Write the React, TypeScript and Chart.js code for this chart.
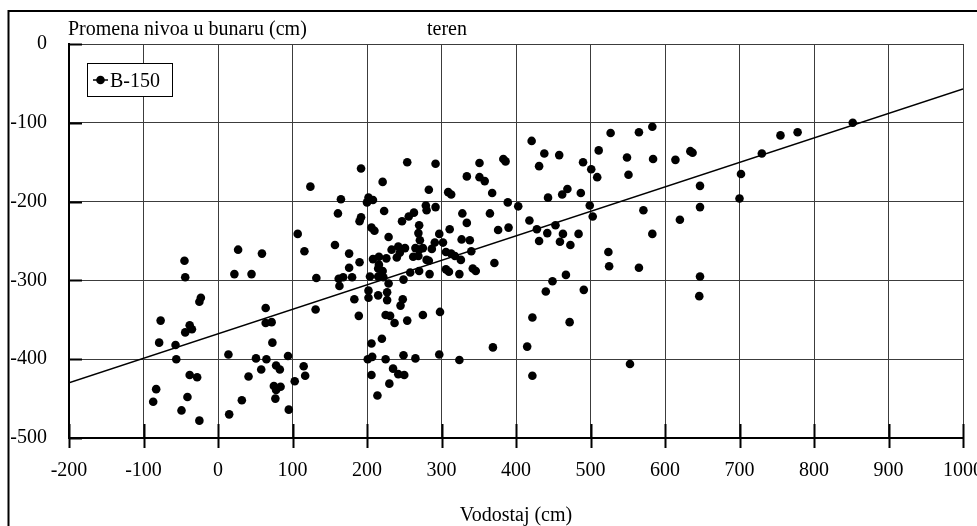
import React, { useEffect, useRef } from 'react';
import { Chart, registerables } from 'chart.js';

Chart.register(...registerables);

// ---- data ----
const xTickValues = [-200, -100, 0, 100, 200, 300, 400, 500, 600, 700, 800, 900, 1000];
const yTickValues = [0, -100, -200, -300, -400, -500];

const seriesName = 'B-150';
const yAxisTitle = 'Promena nivoa u bunaru (cm)';
const topNote = 'teren';
const xAxisTitle = 'Vodostaj (cm)';

// Vodostaj (cm)
const vodostaj = [
  -45, -44, -23, -25, -77, -38, -35, -44, -79, -57, -56, -38, -28, -83, -87, -41, -49, -25, 15, 32,
  41, 58, 51, 65, 14, 78, 83, 75, 84, 78, 77, 94, 103, 95, 73, 64, 72, 64, 27, 59, 22, 45, 107,
  116, 132, 131, 115, 117, 124, 192, 165, 161, 157, 176, 190, 176, 162, 168, 163, 180, 183, 189,
  254, 221, 202, 200, 208, 223, 192, 190, 206, 210, 229,
  208, 216, 226, 216, 215, 221, 204, 215, 222,
  229, 202, 202, 215, 227, 227,
  248, 245, 254, 225, 231, 237, 249,
  206, 220, 201, 207, 225, 249, 265, 206, 235, 242, 250, 230, 214,
  292, 283, 292, 279, 280, 263, 256, 247, 270, 269, 297,
  271, 270, 265, 275, 291, 287,
  233, 242, 244, 251, 240,
  262, 269, 280, 283, 258, 270, 284,
  298, 275, 297, 302,
  421, 431, 351, 383, 386, 334, 351, 358, 309, 313, 368, 389, 403, 328, 334, 365, 418, 428, 431, 390, 376, 311,
  306, 313, 318, 326, 340, 306, 310, 324, 342, 346, 371, 327, 338,
  324, 369, 415, 422, 422,
  438, 458, 490, 501, 509, 443, 462, 469, 487, 499, 503, 442, 453, 463, 459, 473, 484, 467, 449, 440, 491, 472,
  527, 565, 583, 511, 549, 551, 584, 614, 634, 637, 647, 647, 571, 583, 620, 524, 525, 565, 647, 646, 553,
  702, 700, 730, 755, 778, 852,
];

// Promena nivoa u bunaru (cm)
const promenaNivoa = [
  -275, -296, -322, -327, -351, -357, -362, -366, -379, -382, -400, -420, -423, -438, -454, -448, -465, -478, -470, -452,
  -422, -413, -399, -400, -394, -408, -413, -434, -435, -439, -450, -396, -428, -464, -379, -354, -353, -335, -261, -266, -292, -292, -241,
  -263, -297, -337, -409, -421, -181, -158, -197, -215, -255, -266, -277, -284, -298, -296, -307, -296, -324, -345,
  -150, -175, -195, -201, -198, -212, -220, -225, -233, -237, -245,
  -273, -270, -272, -280, -285, -288, -295, -295, -296,
  -304, -313, -322, -319, -315, -325,
  -324, -332, -351, -344, -345, -354, -299,
  -380, -374, -400, -397, -400, -395, -399, -420, -412, -419, -420, -431, -446,
  -152, -185, -207, -205, -211, -214, -219, -225, -230, -240, -241,
  -249, -261, -259, -259, -252, -260,
  -261, -257, -265, -259, -271,
  -270, -269, -274, -275, -290, -288, -292,
  -340, -344, -394, -252,
  -123, -155, -151, -146, -149, -168, -169, -174, -188, -191, -189, -201, -206, -215, -227, -215, -224, -235, -250, -233, -236, -235,
  -264, -266, -269, -274, -263, -286, -289, -292, -285, -288, -278, -248, -249,
  -401, -385, -384, -347, -421,
  -139, -141, -150, -159, -169, -195, -191, -184, -189, -205, -219, -240, -230, -241, -251, -255, -241, -293, -301, -314, -312, -353,
  -113, -112, -105, -135, -144, -166, -146, -147, -136, -138, -180, -207, -211, -241, -223, -264, -282, -284, -295, -320, -406,
  -165, -196, -139, -116, -112, -100,
];

// Linear trend line end points
const trendX = [-200, 1000];
const trendY = [-430, -57];

const FONT = "'Liberation Serif', 'Times New Roman', Times, serif";

const decorPlugin = {
  id: 'decorPlugin',
  afterDraw(chart: any) {
    const { ctx, chartArea, scales } = chart;
    const xs = scales.x;
    const ys = scales.y;
    ctx.save();
    ctx.strokeStyle = '#000';
    ctx.lineWidth = 2;
    ctx.beginPath();
    for (const v of yTickValues) {
      const py = Math.round(ys.getPixelForValue(v)) + 0.5;
      ctx.moveTo(chartArea.left, py);
      ctx.lineTo(chartArea.left + 13, py);
    }
    for (const v of xTickValues) {
      const px = Math.round(xs.getPixelForValue(v)) + 0.5;
      ctx.moveTo(px, chartArea.bottom - 14);
      ctx.lineTo(px, chartArea.bottom + 10);
    }
    ctx.stroke();

    // outer frame
    ctx.lineWidth = 2;
    ctx.beginPath();
    ctx.moveTo(8.5, chart.height + 5);
    ctx.lineTo(8.5, 11);
    ctx.lineTo(chart.width + 5, 11);
    ctx.stroke();

    // texts
    ctx.fillStyle = '#000';
    ctx.font = `20px ${FONT}`;
    ctx.textBaseline = 'alphabetic';
    ctx.textAlign = 'left';
    ctx.fillText(yAxisTitle, 68, 35);
    ctx.fillText(topNote, 427, 35);
    ctx.textAlign = 'center';
    ctx.fillText(xAxisTitle, (chartArea.left + chartArea.right) / 2, 521);

    // legend
    const bx = 87.5, by = 63.5, bw = 85, bh = 33;
    ctx.fillStyle = '#fff';
    ctx.fillRect(bx, by, bw, bh);
    ctx.lineWidth = 1;
    ctx.strokeStyle = '#000';
    ctx.strokeRect(bx, by, bw, bh);
    ctx.lineWidth = 1.5;
    ctx.beginPath();
    ctx.moveTo(93, 80);
    ctx.lineTo(108, 80);
    ctx.stroke();
    ctx.fillStyle = '#000';
    ctx.beginPath();
    ctx.arc(100.5, 80, 4.3, 0, Math.PI * 2);
    ctx.fill();
    ctx.textAlign = 'left';
    ctx.fillText(seriesName, 110, 87);
    ctx.restore();
  },
};

export default function App() {
  const canvasRef = useRef<HTMLCanvasElement | null>(null);

  useEffect(() => {
    if (!canvasRef.current) return;
    const points = vodostaj.map((x, i) => ({ x, y: promenaNivoa[i] }));
    const trend = trendX.map((x, i) => ({ x, y: trendY[i] }));
    const gridColor = '#3c3c3c';
    const chart = new Chart(canvasRef.current, {
      type: 'scatter',
      data: {
        datasets: [
          {
            label: 'trend',
            data: trend,
            showLine: true,
            borderColor: '#000',
            borderWidth: 1.5,
            pointRadius: 0,
            fill: false,
          },
          {
            label: seriesName,
            data: points,
            backgroundColor: '#000',
            borderColor: '#000',
            borderWidth: 0,
            pointRadius: 4.3,
            pointHoverRadius: 4.3,
          },
        ],
      },
      options: {
        animation: false,
        responsive: true,
        maintainAspectRatio: false,
        events: [],
        layout: { padding: { left: 0, right: 14, top: 44, bottom: 0 } },
        plugins: {
          legend: { display: false },
          tooltip: { enabled: false },
          title: { display: false },
        },
        scales: {
          x: {
            type: 'linear',
            min: -200,
            max: 1000,
            afterBuildTicks: (scale: any) => {
              scale.ticks = xTickValues.map((v) => ({ value: v }));
            },
            afterFit: (scale: any) => {
              scale.height = 88;
              scale.paddingLeft = 0;
              scale.paddingRight = 0;
            },
            ticks: {
              autoSkip: false,
              maxRotation: 0,
              minRotation: 0,
              padding: 21,
              color: '#000',
              font: { family: FONT, size: 20 },
              callback: (v: any) => String(v),
            },
            grid: { color: gridColor, lineWidth: 1, drawTicks: false },
            border: { color: '#000', width: 2 },
          },
          y: {
            type: 'linear',
            min: -500,
            max: 0,
            afterBuildTicks: (scale: any) => {
              scale.ticks = yTickValues.map((v) => ({ value: v }));
            },
            afterFit: (scale: any) => {
              scale.width = 69;
              scale.paddingTop = 0;
              scale.paddingBottom = 0;
            },
            ticks: {
              padding: 22,
              color: '#000',
              font: { family: FONT, size: 20 },
              callback: (v: any) => String(v),
            },
            grid: { color: gridColor, lineWidth: 1, drawTicks: false },
            border: { color: '#000', width: 2 },
          },
        },
      },
      plugins: [decorPlugin],
    });
    return () => chart.destroy();
  }, []);

  return (
    <div style={{ position: 'fixed', left: 0, top: 0, width: 977, height: 526, background: '#fff' }}>
      <canvas ref={canvasRef} />
    </div>
  );
}
